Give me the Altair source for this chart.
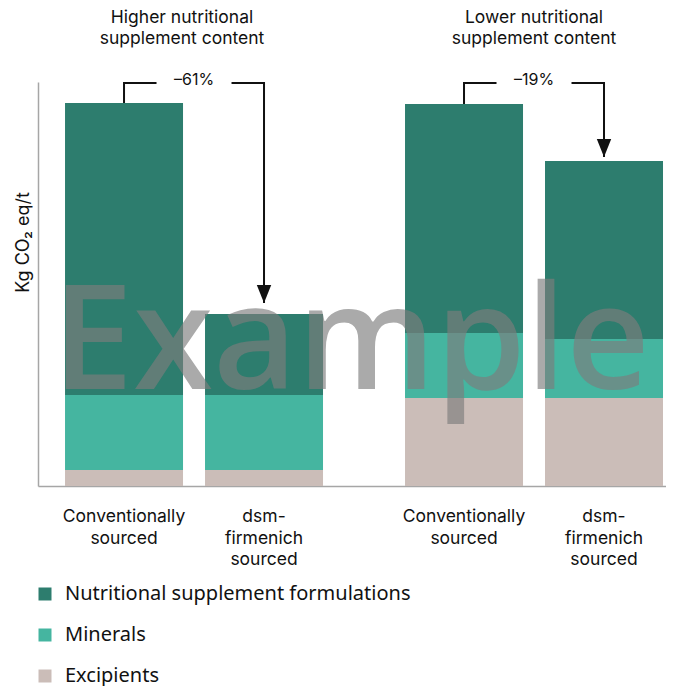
import altair as alt
import pandas as pd

# ---- data ----
groups = ["Higher nutritional\nsupplement content", "Lower nutritional\nsupplement content"]
sources = ["Conventionally sourced", "dsm-firmenich sourced"]
source_labels = ["Conventionally\nsourced", "dsm-\nfirmenich\nsourced"]
components = ["Nutritional supplement formulations", "Minerals", "Excipients"]
colors = ["#2d7d6e", "#45b5a0", "#cbbdb8"]

bar_group = [groups[0], groups[0], groups[1], groups[1]]
bar_source = [sources[0], sources[1], sources[0], sources[1]]
nsf = [292, 81, 229, 178]
minerals = [75, 75, 65, 59]
excipients = [16, 16, 88, 88]

pct_labels = ["–61%", "–19%"]
bracket_top = 403
arrow_end = [183, 329]

# ---- tables ----
rows = []
for g, s, a, b, c in zip(bar_group, bar_source, nsf, minerals, excipients):
    for comp, v, order in [(components[2], c, 0), (components[1], b, 1), (components[0], a, 2)]:
        rows.append({"group": g, "source": s, "component": comp, "value": v, "stack": order})
bars_df = pd.DataFrame(rows)

totals = {(g, s): a + b + c for g, s, a, b, c in zip(bar_group, bar_source, nsf, minerals, excipients)}

br_rows = []
for gi, g in enumerate(groups):
    pts = [
        (sources[0], totals[(g, sources[0])]),
        (sources[0], bracket_top),
        (sources[1], bracket_top),
        (sources[1], arrow_end[gi]),
    ]
    for k, (s, v) in enumerate(pts):
        br_rows.append({"group": g, "source": s, "value": v, "seq": k})
bracket_df = pd.DataFrame(br_rows)

pct_df = pd.DataFrame({"group": groups, "label": pct_labels, "value": [bracket_top] * 2})
arrow_df = pd.DataFrame({"group": groups, "source": [sources[1]] * 2, "value": arrow_end})
lab_df = pd.DataFrame({"group": bar_group, "source": bar_source,
                       "label": source_labels * 2})
title_df = pd.DataFrame({"group": groups})
wm_df = pd.DataFrame({"t": ["Example"]})

x_scale = alt.Scale(domain=groups, paddingInner=0.2353, paddingOuter=0.0412, align=0.929)
xo_scale = alt.Scale(domain=sources, paddingInner=0.1571, paddingOuter=0.00714)
y_scale = alt.Scale(domain=[0, 404], nice=False)

X = alt.X("group:N", scale=x_scale, sort=groups,
          axis=alt.Axis(labels=False, ticks=False, title=None, domainColor="#a6a6a6", domainWidth=1.5))
XO = alt.XOffset("source:N", scale=xo_scale, sort=sources)

bars = alt.Chart(bars_df).mark_bar().encode(
    x=X,
    xOffset=XO,
    y=alt.Y("value:Q", stack="zero", scale=y_scale,
            axis=alt.Axis(labels=False, ticks=False, grid=False, title="Kg CO₂ eq/t",
                          domainColor="#a6a6a6", domainWidth=1.5,
                          titleFont="Inter", titleFontSize=18, titleFontWeight="normal",
                          titleColor="#111", titleX=-6, titleY=160)),
    color=alt.Color("component:N", scale=alt.Scale(domain=components, range=colors),
                    legend=alt.Legend(orient="none", legendX=-3, legendY=502, direction="vertical",
                                      title=None, symbolType="square", symbolSize=169,
                                      symbolStrokeWidth=0, labelFont="Noto Sans", labelFontSize=20,
                                      labelColor="#111", rowPadding=21, labelOffset=10,
                                      labelLimit=0)),
    order=alt.Order("stack:Q", sort="ascending"),
)

watermark = alt.Chart(wm_df).mark_text(
    font="Open Sans", fontWeight=600, fontSize=145, color="#7d7d7d", opacity=0.65,
    baseline="alphabetic", align="center"
).encode(text="t:N", x=alt.value(313), y=alt.value(307))

bracket = alt.Chart(bracket_df).mark_line(color="#111", strokeWidth=2, strokeCap="butt").encode(
    x=X, xOffset=XO, y=alt.Y("value:Q", scale=y_scale), order="seq:Q", detail="group:N"
)

pct_box = alt.Chart(pct_df).mark_point(
    shape="M-1,-0.2L1,-0.2L1,0.2L-1,0.2Z", size=5625, filled=True, fill="white", opacity=1, strokeWidth=0
).encode(x=X, y=alt.Y("value:Q", scale=y_scale))

pct_text = alt.Chart(pct_df).mark_text(
    font="Inter", fontSize=16, color="#111", baseline="middle", dy=-3
).encode(x=X, y=alt.Y("value:Q", scale=y_scale), text="label:N")

arrows = alt.Chart(arrow_df).mark_point(
    shape="M-0.4,-1L0.4,-1L0,0Z", size=1296, filled=True, fill="#111", opacity=1, strokeWidth=0
).encode(x=X, xOffset=XO, y=alt.Y("value:Q", scale=y_scale))

bar_labels = alt.Chart(lab_df).mark_text(
    font="Inter", fontSize=17.5, color="#111", baseline="top", lineBreak="\n", lineHeight=21.5
).encode(x=X, xOffset=XO, y=alt.value(426), text="label:N")

title_1 = alt.Chart(title_df).transform_filter(
    alt.datum.group == groups[0]
).mark_text(
    font="Inter", fontSize=17.5, color="#111", baseline="top", lineBreak="\n", lineHeight=21, dx=-12
).encode(x=X, y=alt.value(-73), text="group:N")

title_2 = alt.Chart(title_df).transform_filter(
    alt.datum.group == groups[1]
).mark_text(
    font="Inter", fontSize=17.5, color="#111", baseline="top", lineBreak="\n", lineHeight=21
).encode(x=X, y=alt.value(-73), text="group:N")

chart = alt.layer(
    bars, watermark, bracket, pct_box, pct_text, arrows, bar_labels, title_1, title_2
).properties(
    width=628, height=404,
    padding={"left": 6, "top": 1, "right": 0, "bottom": 0},
    background="white",
).configure_view(stroke=None)

chart.save("out.html", embed_options={"renderer": "svg", "actions": False})
